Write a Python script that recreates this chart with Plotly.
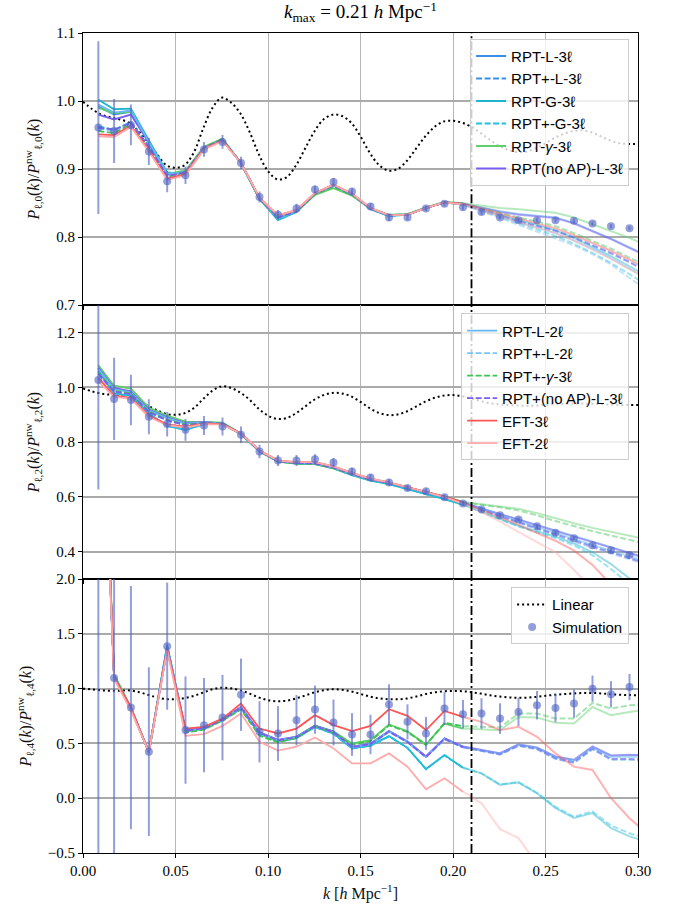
import plotly.graph_objects as go

# ---------------- data ----------------
k = [0.0083, 0.0168, 0.0259, 0.0356, 0.0455, 0.0554, 0.0654, 0.0754, 0.0854, 0.0954,
     0.1054, 0.1154, 0.1254, 0.1354, 0.1454, 0.1554, 0.1654, 0.1754, 0.1854, 0.1954,
     0.2054, 0.2154, 0.2254, 0.2354, 0.2454, 0.2554, 0.2654, 0.2754, 0.2854, 0.2954, 0.3054]
k_sim = k[:30]
k_max = 0.21
n_fit = 21  # points up to k_max

k_lin = [0.000, 0.005, 0.010, 0.015, 0.020, 0.025, 0.030, 0.035, 0.040, 0.045,
         0.050, 0.055, 0.060, 0.065, 0.070, 0.075, 0.080, 0.085, 0.090, 0.095,
         0.100, 0.105, 0.110, 0.115, 0.120, 0.125, 0.130, 0.135, 0.140, 0.145,
         0.150, 0.155, 0.160, 0.165, 0.170, 0.175, 0.180, 0.185, 0.190, 0.195,
         0.200, 0.205, 0.210, 0.215, 0.220, 0.225, 0.230, 0.235, 0.240, 0.245,
         0.250, 0.255, 0.260, 0.265, 0.270, 0.275, 0.280, 0.285, 0.290, 0.295, 0.300]

lin_P0 = [0.999, 0.988, 0.980, 0.976, 0.973, 0.968, 0.956, 0.940, 0.922, 0.906,
          0.902, 0.906, 0.925, 0.960, 0.990, 1.005, 0.998, 0.982, 0.955, 0.922,
          0.897, 0.885, 0.888, 0.905, 0.930, 0.955, 0.973, 0.980, 0.978, 0.968,
          0.948, 0.924, 0.906, 0.898, 0.900, 0.912, 0.930, 0.948, 0.962, 0.970,
          0.971, 0.968, 0.962, 0.953, 0.943, 0.934, 0.928, 0.925, 0.926, 0.931,
          0.938, 0.946, 0.952, 0.956, 0.957, 0.954, 0.948, 0.942, 0.938, 0.937, 0.937]
lin_P2 = [0.996, 0.985, 0.977, 0.973, 0.968, 0.960, 0.948, 0.933, 0.917, 0.903,
          0.900, 0.906, 0.925, 0.958, 0.988, 1.004, 0.998, 0.981, 0.955, 0.922,
          0.897, 0.885, 0.888, 0.905, 0.930, 0.955, 0.972, 0.980, 0.978, 0.967,
          0.947, 0.924, 0.907, 0.899, 0.901, 0.912, 0.930, 0.948, 0.962, 0.970,
          0.972, 0.968, 0.960, 0.950, 0.942, 0.938, 0.936, 0.934, 0.933, 0.934,
          0.936, 0.938, 0.940, 0.941, 0.941, 0.940, 0.939, 0.937, 0.936, 0.936, 0.936]
lin_P4 = [1.000, 0.993, 0.985, 0.980, 0.982, 0.984, 0.970, 0.945, 0.920, 0.905,
          0.905, 0.915, 0.935, 0.965, 0.995, 1.009, 1.003, 0.985, 0.955, 0.920,
          0.895, 0.885, 0.890, 0.910, 0.937, 0.965, 0.985, 0.994, 0.990, 0.975,
          0.952, 0.928, 0.912, 0.904, 0.903, 0.910, 0.928, 0.950, 0.967, 0.976,
          0.979, 0.977, 0.968, 0.955, 0.940, 0.928, 0.921, 0.917, 0.918, 0.925,
          0.935, 0.944, 0.951, 0.956, 0.960, 0.961, 0.957, 0.950, 0.945, 0.942, 0.940]

sim_P0 = [0.961, 0.956, 0.965, 0.926, 0.882, 0.891, 0.929, 0.940, 0.909, 0.859,
          0.833, 0.842, 0.870, 0.881, 0.867, 0.845, 0.829, 0.829, 0.842, 0.849,
          0.844, 0.837, 0.829, 0.825, 0.825, 0.825, 0.824, 0.820, 0.816, 0.813]
err_P0 = [0.127, 0.047, 0.030, 0.020, 0.016, 0.013, 0.011, 0.010, 0.009, 0.008,
          0.007, 0.007, 0.006, 0.006, 0.005, 0.005, 0.005, 0.004, 0.004, 0.004,
          0.004, 0.004, 0.003, 0.003, 0.003, 0.003, 0.003, 0.003, 0.003, 0.003]
sim_P2 = [1.027, 0.958, 0.954, 0.893, 0.866, 0.845, 0.861, 0.857, 0.827, 0.766,
          0.733, 0.733, 0.738, 0.726, 0.693, 0.671, 0.653, 0.633, 0.621, 0.599,
          0.576, 0.554, 0.533, 0.518, 0.493, 0.469, 0.449, 0.424, 0.405, 0.388]
err_P2 = [0.400, 0.150, 0.092, 0.064, 0.045, 0.040, 0.035, 0.033, 0.030, 0.025,
          0.020, 0.020, 0.018, 0.016, 0.014, 0.013, 0.012, 0.011, 0.010, 0.010,
          0.009, 0.009, 0.008, 0.008, 0.008, 0.007, 0.007, 0.007, 0.007, 0.007]
sim_P4 = [3.000, 1.097, 0.827, 0.425, 1.388, 0.622, 0.667, 0.736, 0.945, 0.606,
          0.591, 0.712, 0.809, 0.691, 0.582, 0.582, 0.855, 0.697, 0.591, 0.818,
          0.767, 0.773, 0.727, 0.788, 0.849, 0.824, 0.864, 1.000, 0.949, 1.015]
err_P4 = [5.00, 1.80, 1.11, 0.77, 0.58, 0.49, 0.43, 0.39, 0.33, 0.28,
          0.25, 0.23, 0.22, 0.21, 0.195, 0.18, 0.185, 0.16, 0.15, 0.15,
          0.13, 0.14, 0.14, 0.13, 0.13, 0.13, 0.13, 0.12, 0.12, 0.12]

# --- monopole models ---
P0_RPT_L_3 = [0.992, 0.980, 0.984, 0.940, 0.893, 0.896, 0.931, 0.943, 0.909, 0.857, 0.829, 0.838, 0.864, 0.876, 0.863, 0.842, 0.832, 0.833, 0.843, 0.851, 0.849, 0.843, 0.838, 0.834, 0.832, 0.829, 0.821, 0.810, 0.798, 0.785, 0.772]
P0_RPTp_L_3 = [0.962, 0.957, 0.968, 0.933, 0.890, 0.895, 0.931, 0.943, 0.909, 0.857, 0.829, 0.838, 0.864, 0.876, 0.863, 0.842, 0.832, 0.833, 0.843, 0.851, 0.849, 0.840, 0.832, 0.824, 0.817, 0.810, 0.800, 0.789, 0.777, 0.764, 0.750]
P0_RPT_G_3 = [1.002, 0.988, 0.989, 0.942, 0.895, 0.893, 0.930, 0.943, 0.909, 0.856, 0.825, 0.837, 0.864, 0.877, 0.863, 0.841, 0.831, 0.833, 0.843, 0.851, 0.848, 0.840, 0.832, 0.825, 0.818, 0.810, 0.799, 0.786, 0.772, 0.757, 0.742]
P0_RPTp_G_3 = [0.963, 0.958, 0.969, 0.933, 0.889, 0.894, 0.930, 0.943, 0.909, 0.856, 0.826, 0.837, 0.864, 0.877, 0.863, 0.841, 0.831, 0.833, 0.843, 0.851, 0.848, 0.839, 0.829, 0.820, 0.811, 0.802, 0.790, 0.777, 0.762, 0.745, 0.729]
P0_RPT_g_3 = [0.990, 0.982, 0.984, 0.938, 0.893, 0.898, 0.933, 0.945, 0.909, 0.856, 0.830, 0.838, 0.862, 0.872, 0.861, 0.842, 0.833, 0.834, 0.844, 0.852, 0.850, 0.846, 0.843, 0.841, 0.839, 0.836, 0.829, 0.819, 0.809, 0.799, 0.787]
P0_RPTnoAP_L_3 = [0.980, 0.973, 0.980, 0.939, 0.892, 0.896, 0.931, 0.943, 0.909, 0.857, 0.829, 0.838, 0.864, 0.876, 0.863, 0.842, 0.832, 0.833, 0.843, 0.851, 0.849, 0.843, 0.837, 0.833, 0.831, 0.828, 0.820, 0.809, 0.797, 0.784, 0.771]
P0_RPT_L_2 = [0.995, 0.983, 0.986, 0.940, 0.893, 0.896, 0.931, 0.943, 0.909, 0.857, 0.828, 0.838, 0.864, 0.876, 0.863, 0.842, 0.832, 0.833, 0.843, 0.851, 0.848, 0.839, 0.830, 0.822, 0.814, 0.806, 0.795, 0.783, 0.769, 0.754, 0.738]
P0_RPTp_L_2 = [0.960, 0.956, 0.967, 0.932, 0.889, 0.895, 0.931, 0.943, 0.909, 0.857, 0.828, 0.838, 0.864, 0.876, 0.863, 0.842, 0.832, 0.833, 0.843, 0.851, 0.848, 0.838, 0.828, 0.818, 0.808, 0.799, 0.788, 0.775, 0.760, 0.740, 0.722]
P0_RPTp_g_3 = [0.956, 0.953, 0.966, 0.932, 0.889, 0.896, 0.932, 0.944, 0.909, 0.856, 0.829, 0.838, 0.863, 0.874, 0.862, 0.842, 0.832, 0.834, 0.843, 0.851, 0.849, 0.842, 0.835, 0.829, 0.823, 0.816, 0.806, 0.795, 0.783, 0.770, 0.757]
P0_RPTpnoAP_L_3 = [0.961, 0.958, 0.968, 0.933, 0.890, 0.895, 0.931, 0.943, 0.909, 0.857, 0.829, 0.838, 0.864, 0.876, 0.863, 0.842, 0.832, 0.833, 0.843, 0.851, 0.849, 0.840, 0.831, 0.823, 0.816, 0.809, 0.799, 0.788, 0.776, 0.763, 0.748]
P0_EFT_3 = [0.951, 0.950, 0.964, 0.928, 0.886, 0.893, 0.930, 0.942, 0.909, 0.858, 0.832, 0.840, 0.865, 0.877, 0.864, 0.843, 0.832, 0.833, 0.843, 0.851, 0.849, 0.842, 0.834, 0.827, 0.820, 0.813, 0.803, 0.792, 0.780, 0.767, 0.753]
P0_EFT_2 = [0.948, 0.947, 0.962, 0.926, 0.884, 0.891, 0.929, 0.941, 0.909, 0.858, 0.832, 0.840, 0.865, 0.877, 0.864, 0.843, 0.832, 0.833, 0.843, 0.851, 0.848, 0.839, 0.830, 0.822, 0.814, 0.806, 0.795, 0.782, 0.768, 0.753, 0.738]

# --- quadrupole models ---
P2_RPT_L_3 = [1.070, 0.996, 0.984, 0.918, 0.890, 0.869, 0.872, 0.869, 0.831, 0.768, 0.731, 0.724, 0.722, 0.707, 0.683, 0.664, 0.651, 0.634, 0.617, 0.600, 0.580, 0.558, 0.538, 0.518, 0.498, 0.478, 0.457, 0.437, 0.417, 0.396, 0.376]
P2_RPTp_L_3 = [1.050, 0.985, 0.975, 0.910, 0.880, 0.862, 0.870, 0.868, 0.830, 0.768, 0.731, 0.724, 0.722, 0.707, 0.683, 0.664, 0.651, 0.634, 0.617, 0.600, 0.579, 0.554, 0.531, 0.508, 0.486, 0.464, 0.442, 0.420, 0.398, 0.377, 0.357]
P2_RPT_G_3 = [1.060, 0.978, 0.970, 0.905, 0.860, 0.845, 0.866, 0.866, 0.829, 0.766, 0.729, 0.722, 0.720, 0.704, 0.680, 0.660, 0.647, 0.629, 0.611, 0.592, 0.572, 0.545, 0.520, 0.495, 0.474, 0.455, 0.430, 0.398, 0.355, 0.305, 0.250]
P2_RPTp_G_3 = [1.055, 0.975, 0.968, 0.903, 0.859, 0.845, 0.866, 0.866, 0.829, 0.766, 0.729, 0.722, 0.720, 0.704, 0.680, 0.660, 0.647, 0.629, 0.611, 0.592, 0.572, 0.544, 0.518, 0.492, 0.470, 0.450, 0.423, 0.387, 0.337, 0.282, 0.225]
P2_RPT_g_3 = [1.081, 1.006, 0.996, 0.926, 0.897, 0.875, 0.874, 0.871, 0.832, 0.768, 0.730, 0.722, 0.720, 0.705, 0.682, 0.664, 0.651, 0.635, 0.618, 0.601, 0.582, 0.574, 0.566, 0.557, 0.541, 0.522, 0.504, 0.487, 0.472, 0.458, 0.444]
P2_RPTnoAP_L_3 = [1.072, 0.998, 0.986, 0.919, 0.891, 0.870, 0.873, 0.869, 0.831, 0.768, 0.731, 0.724, 0.722, 0.707, 0.683, 0.664, 0.651, 0.634, 0.617, 0.600, 0.580, 0.557, 0.537, 0.516, 0.496, 0.476, 0.455, 0.435, 0.415, 0.394, 0.374]
P2_RPT_L_2 = [1.068, 0.994, 0.982, 0.916, 0.888, 0.868, 0.872, 0.869, 0.831, 0.768, 0.731, 0.724, 0.722, 0.707, 0.683, 0.664, 0.651, 0.634, 0.617, 0.600, 0.579, 0.555, 0.533, 0.511, 0.489, 0.467, 0.446, 0.425, 0.404, 0.384, 0.364]
P2_RPTp_L_2 = [1.050, 0.985, 0.975, 0.910, 0.880, 0.862, 0.870, 0.868, 0.830, 0.768, 0.731, 0.724, 0.722, 0.707, 0.683, 0.664, 0.651, 0.634, 0.617, 0.600, 0.579, 0.552, 0.528, 0.504, 0.481, 0.458, 0.436, 0.414, 0.392, 0.371, 0.351]
P2_RPTp_g_3 = [1.055, 0.988, 0.978, 0.912, 0.882, 0.864, 0.871, 0.869, 0.831, 0.768, 0.730, 0.722, 0.720, 0.705, 0.682, 0.664, 0.651, 0.635, 0.618, 0.601, 0.581, 0.572, 0.562, 0.551, 0.533, 0.512, 0.493, 0.475, 0.459, 0.443, 0.428]
P2_RPTpnoAP_L_3 = [1.050, 0.985, 0.975, 0.910, 0.880, 0.862, 0.870, 0.868, 0.830, 0.768, 0.731, 0.724, 0.722, 0.707, 0.683, 0.664, 0.651, 0.634, 0.617, 0.600, 0.579, 0.553, 0.530, 0.507, 0.484, 0.462, 0.440, 0.418, 0.396, 0.375, 0.355]
P2_EFT_3 = [1.035, 0.970, 0.962, 0.897, 0.865, 0.857, 0.868, 0.866, 0.832, 0.770, 0.733, 0.727, 0.727, 0.712, 0.688, 0.667, 0.653, 0.636, 0.619, 0.601, 0.580, 0.553, 0.527, 0.498, 0.468, 0.440, 0.404, 0.352, 0.280, 0.205, 0.130]
P2_EFT_2 = [1.022, 0.965, 0.958, 0.892, 0.862, 0.853, 0.866, 0.864, 0.831, 0.770, 0.733, 0.727, 0.727, 0.712, 0.688, 0.667, 0.653, 0.636, 0.618, 0.599, 0.576, 0.545, 0.510, 0.472, 0.435, 0.398, 0.333, 0.268, 0.200, 0.130, 0.060]

# --- hexadecapole models ---
P4_RPT_L_3 = [4.70, 1.11, 0.82, 0.42, 1.38, 0.620, 0.640, 0.720, 0.830, 0.600, 0.530, 0.560, 0.660, 0.606, 0.470, 0.495, 0.612, 0.515, 0.379, 0.545, 0.470, 0.440, 0.409, 0.491, 0.461, 0.379, 0.349, 0.470, 0.388, 0.394, 0.390]
P4_RPTp_L_3 = [4.70, 1.11, 0.82, 0.42, 1.38, 0.615, 0.636, 0.716, 0.826, 0.596, 0.527, 0.556, 0.656, 0.602, 0.466, 0.492, 0.608, 0.512, 0.376, 0.541, 0.466, 0.434, 0.400, 0.480, 0.450, 0.362, 0.326, 0.450, 0.356, 0.355, 0.350]
P4_RPT_G_3 = [4.60, 1.12, 0.82, 0.42, 1.40, 0.615, 0.635, 0.715, 0.820, 0.590, 0.520, 0.550, 0.650, 0.590, 0.455, 0.480, 0.567, 0.460, 0.267, 0.394, 0.279, 0.227, 0.122, 0.143, 0.045, -0.090, -0.180, -0.136, -0.273, -0.348, -0.400]
P4_RPTp_G_3 = [4.60, 1.12, 0.82, 0.42, 1.40, 0.612, 0.632, 0.712, 0.818, 0.588, 0.518, 0.548, 0.648, 0.588, 0.453, 0.478, 0.565, 0.458, 0.265, 0.392, 0.278, 0.227, 0.125, 0.148, 0.050, -0.080, -0.170, -0.120, -0.250, -0.320, -0.370]
P4_RPT_g_3 = [4.80, 1.13, 0.83, 0.42, 1.37, 0.615, 0.635, 0.715, 0.820, 0.590, 0.520, 0.560, 0.665, 0.610, 0.500, 0.530, 0.673, 0.612, 0.490, 0.680, 0.636, 0.627, 0.621, 0.742, 0.736, 0.688, 0.682, 0.833, 0.758, 0.788, 0.810]
P4_RPTnoAP_L_3 = [4.70, 1.11, 0.82, 0.42, 1.38, 0.622, 0.642, 0.722, 0.832, 0.602, 0.532, 0.562, 0.662, 0.608, 0.472, 0.497, 0.614, 0.517, 0.381, 0.547, 0.472, 0.442, 0.411, 0.493, 0.463, 0.381, 0.351, 0.472, 0.390, 0.396, 0.392]
P4_RPT_L_2 = [4.70, 1.11, 0.82, 0.42, 1.38, 0.618, 0.638, 0.718, 0.828, 0.598, 0.528, 0.558, 0.658, 0.604, 0.468, 0.493, 0.610, 0.513, 0.377, 0.543, 0.468, 0.437, 0.405, 0.486, 0.456, 0.372, 0.340, 0.462, 0.375, 0.378, 0.372]
P4_RPTp_L_2 = [4.70, 1.11, 0.82, 0.42, 1.38, 0.614, 0.634, 0.714, 0.824, 0.594, 0.525, 0.554, 0.654, 0.600, 0.464, 0.490, 0.606, 0.510, 0.374, 0.539, 0.464, 0.432, 0.398, 0.477, 0.446, 0.358, 0.322, 0.446, 0.350, 0.350, 0.344]
P4_RPTp_g_3 = [4.75, 1.12, 0.82, 0.42, 1.37, 0.600, 0.625, 0.710, 0.810, 0.570, 0.510, 0.550, 0.655, 0.600, 0.490, 0.520, 0.665, 0.605, 0.485, 0.688, 0.658, 0.652, 0.645, 0.773, 0.773, 0.727, 0.727, 0.870, 0.818, 0.848, 0.860]
P4_RPTpnoAP_L_3 = [4.70, 1.11, 0.82, 0.42, 1.38, 0.616, 0.637, 0.717, 0.827, 0.597, 0.528, 0.557, 0.657, 0.603, 0.467, 0.493, 0.609, 0.513, 0.377, 0.542, 0.467, 0.435, 0.401, 0.481, 0.451, 0.364, 0.328, 0.452, 0.358, 0.357, 0.352]
P4_EFT_3 = [4.90, 1.10, 0.83, 0.42, 1.36, 0.636, 0.651, 0.727, 0.864, 0.636, 0.591, 0.636, 0.758, 0.667, 0.612, 0.660, 0.812, 0.752, 0.622, 0.797, 0.742, 0.697, 0.621, 0.652, 0.561, 0.409, 0.288, 0.258, 0.000, -0.182, -0.330]
P4_EFT_2 = [4.50, 1.09, 0.80, 0.42, 1.35, 0.570, 0.585, 0.660, 0.773, 0.515, 0.434, 0.470, 0.555, 0.455, 0.318, 0.318, 0.409, 0.288, 0.082, 0.182, 0.060, -0.045, -0.282, -0.364, -0.600, -0.850, -1.100, -1.350, -1.600, -1.850, -2.100]

model_names = ["RPT-L-3ℓ", "RPT+-L-3ℓ", "RPT-G-3ℓ", "RPT+-G-3ℓ", "RPT-<i>γ</i>-3ℓ",
               "RPT(no AP)-L-3ℓ", "RPT-L-2ℓ", "RPT+-L-2ℓ", "RPT+-<i>γ</i>-3ℓ",
               "RPT+(no AP)-L-3ℓ", "EFT-3ℓ", "EFT-2ℓ"]
model_colors = ["#3a8ee8", "#3a8ee8", "#1fb4cc", "#22bfe0", "#5fcf6a", "#7a5cf0",
                "#66b8f2", "#7cc4f2", "#3cc452", "#7a5cf0", "#ff5555", "#ffaaaa"]
model_dashed = [False, True, False, True, False, False, False, True, True, True, False, False]
model_legend = ["legend"] * 6 + ["legend2"] * 6

P0_models = [P0_RPT_L_3, P0_RPTp_L_3, P0_RPT_G_3, P0_RPTp_G_3, P0_RPT_g_3, P0_RPTnoAP_L_3,
             P0_RPT_L_2, P0_RPTp_L_2, P0_RPTp_g_3, P0_RPTpnoAP_L_3, P0_EFT_3, P0_EFT_2]
P2_models = [P2_RPT_L_3, P2_RPTp_L_3, P2_RPT_G_3, P2_RPTp_G_3, P2_RPT_g_3, P2_RPTnoAP_L_3,
             P2_RPT_L_2, P2_RPTp_L_2, P2_RPTp_g_3, P2_RPTpnoAP_L_3, P2_EFT_3, P2_EFT_2]
P4_models = [P4_RPT_L_3, P4_RPTp_L_3, P4_RPT_G_3, P4_RPTp_G_3, P4_RPT_g_3, P4_RPTnoAP_L_3,
             P4_RPT_L_2, P4_RPTp_L_2, P4_RPTp_g_3, P4_RPTpnoAP_L_3, P4_EFT_3, P4_EFT_2]

# ---------------- figure ----------------
def rgba(hexc, a):
    h = hexc.lstrip("#")
    return "rgba(%d,%d,%d,%.2f)" % (int(h[0:2], 16), int(h[2:4], 16), int(h[4:6], 16), a)

SIM_COL = "rgba(80,100,195,0.62)"
DASH = "6px,2.5px"
fig = go.Figure()

panels = [("x", "y", P0_models, lin_P0, sim_P0, err_P0),
          ("x2", "y2", P2_models, lin_P2, sim_P2, err_P2),
          ("x3", "y3", P4_models, lin_P4, sim_P4, err_P4)]

for p, (xa, ya, models, lin, sim, err) in enumerate(panels):
    fig.add_trace(go.Scatter(x=k_lin, y=lin, xaxis=xa, yaxis=ya, mode="lines",
                             line=dict(color="black", width=2, dash="2px,3px", shape="spline"),
                             name="Linear", legend="legend3", showlegend=(p == 2)))
    for m in range(len(models)):
        dash = DASH if model_dashed[m] else "solid"
        fig.add_trace(go.Scatter(x=k[n_fit - 1:], y=models[m][n_fit - 1:], xaxis=xa, yaxis=ya,
                                 mode="lines", showlegend=False, hoverinfo="skip",
                                 line=dict(color=rgba(model_colors[m], 0.45), width=2, dash=dash)))
    for m in range(len(models)):
        dash = DASH if model_dashed[m] else "solid"
        fig.add_trace(go.Scatter(x=k[:n_fit], y=models[m][:n_fit], xaxis=xa, yaxis=ya,
                                 mode="lines", name=model_names[m], legend=model_legend[m],
                                 showlegend=((p == 0 and m < 6) or (p == 1 and m >= 6)),
                                 line=dict(color=model_colors[m], width=1.8, dash=dash)))
    fig.add_trace(go.Scatter(x=k_sim, y=sim, xaxis=xa, yaxis=ya, mode="markers",
                             marker=dict(color=SIM_COL, size=8),
                             error_y=dict(type="data", array=err, color=SIM_COL,
                                          thickness=2, width=0),
                             name="Simulation", legend="legend3", showlegend=(p == 2)))

# vertical k_max line
for xa, ya in [("x", "y"), ("x2", "y2"), ("x3", "y3")]:
    fig.add_shape(type="line", x0=k_max, x1=k_max, y0=0, y1=1, xref=xa, yref=ya + " domain",
                  line=dict(color="black", width=1.8, dash="9px,3px,2px,3px"))

serif = "Liberation Serif, DejaVu Serif, serif"
sans = "Liberation Sans, Arial, sans-serif"

x_ticks = [0.0, 0.05, 0.10, 0.15, 0.20, 0.25, 0.30]
x_ticktext = ["0.00", "0.05", "0.10", "0.15", "0.20", "0.25", "0.30"]
y0_ticks = [0.7, 0.8, 0.9, 1.0, 1.1]
y2_ticks = [0.4, 0.6, 0.8, 1.0, 1.2]
y4_ticks = [-0.5, 0.0, 0.5, 1.0, 1.5, 2.0]

axis_common = dict(showline=True, linecolor="black", linewidth=1.2, mirror=True,
                   ticks="outside", ticklen=4, tickcolor="black", zeroline=False,
                   tickfont=dict(family=serif, size=15, color="black"))
xcommon = dict(axis_common, range=[0, 0.30], tickvals=x_ticks, ticktext=x_ticktext,
               showgrid=True, gridcolor="#b5b5b5", gridwidth=1)
ycommon = dict(axis_common, showgrid=True, gridcolor="#aaaaaa", gridwidth=1.5)

lbl_font = dict(family=serif, size=16, color="#111111", weight="normal")
leg_font = dict(family=sans, size=15, color="black")
fig.update_layout(
    width=677, height=911,
    margin=dict(l=83, r=39, t=33, b=54),
    plot_bgcolor="white", paper_bgcolor="white",
    showlegend=True,
    title=dict(text="<i>k</i><sub>max</sub> = 0.21 <i>h</i> Mpc<sup>−1</sup>",
               x=0.5325, xanchor="center", y=0.987, yanchor="middle", yref="container",
               font=dict(family=serif, size=19, color="black")),
    xaxis=dict(xcommon, anchor="y", matches="x3", showticklabels=False),
    xaxis2=dict(xcommon, anchor="y2", matches="x3", showticklabels=False),
    xaxis3=dict(xcommon, anchor="y3",
                title=dict(text="<i>k</i> [<i>h</i> Mpc<sup>−1</sup>]", font=lbl_font, standoff=9)),
    yaxis=dict(ycommon, domain=[0.668, 1.0], range=[0.7, 1.1], tickvals=y0_ticks,
               ticktext=["0.7", "0.8", "0.9", "1.0", "1.1"],
               title=dict(text="<i>P</i><sub>ℓ,0</sub>(<i>k</i>)/<i>P</i><sup>nw</sup><sub>ℓ,0</sub>(<i>k</i>)",
                          font=lbl_font, standoff=12)),
    yaxis2=dict(ycommon, domain=[0.334, 0.668], range=[0.3, 1.3], tickvals=y2_ticks,
                ticktext=["0.4", "0.6", "0.8", "1.0", "1.2"],
                title=dict(text="<i>P</i><sub>ℓ,2</sub>(<i>k</i>)/<i>P</i><sup>nw</sup><sub>ℓ,2</sub>(<i>k</i>)",
                           font=lbl_font, standoff=12)),
    yaxis3=dict(ycommon, domain=[0.0, 0.334], range=[-0.5, 2.0], tickvals=y4_ticks,
                ticktext=["−0.5", "0.0", "0.5", "1.0", "1.5", "2.0"],
                title=dict(text="<i>P</i><sub>ℓ,4</sub>(<i>k</i>)/<i>P</i><sup>nw</sup><sub>ℓ,4</sub>(<i>k</i>)",
                           font=lbl_font, standoff=12)),
    legend=dict(x=0.984, y=0.993, xanchor="right", yanchor="top",
                bgcolor="rgba(255,255,255,0.8)", bordercolor="#cccccc", borderwidth=1,
                font=leg_font, tracegroupgap=0),
    legend2=dict(x=0.984, y=0.658, xanchor="right", yanchor="top",
                 bgcolor="rgba(255,255,255,0.8)", bordercolor="#cccccc", borderwidth=1,
                 font=leg_font, tracegroupgap=0),
    legend3=dict(x=0.984, y=0.324, xanchor="right", yanchor="top",
                 bgcolor="rgba(255,255,255,0.8)", bordercolor="#cccccc", borderwidth=1,
                 font=leg_font, tracegroupgap=0),
)

fig.write_html("out.html")
